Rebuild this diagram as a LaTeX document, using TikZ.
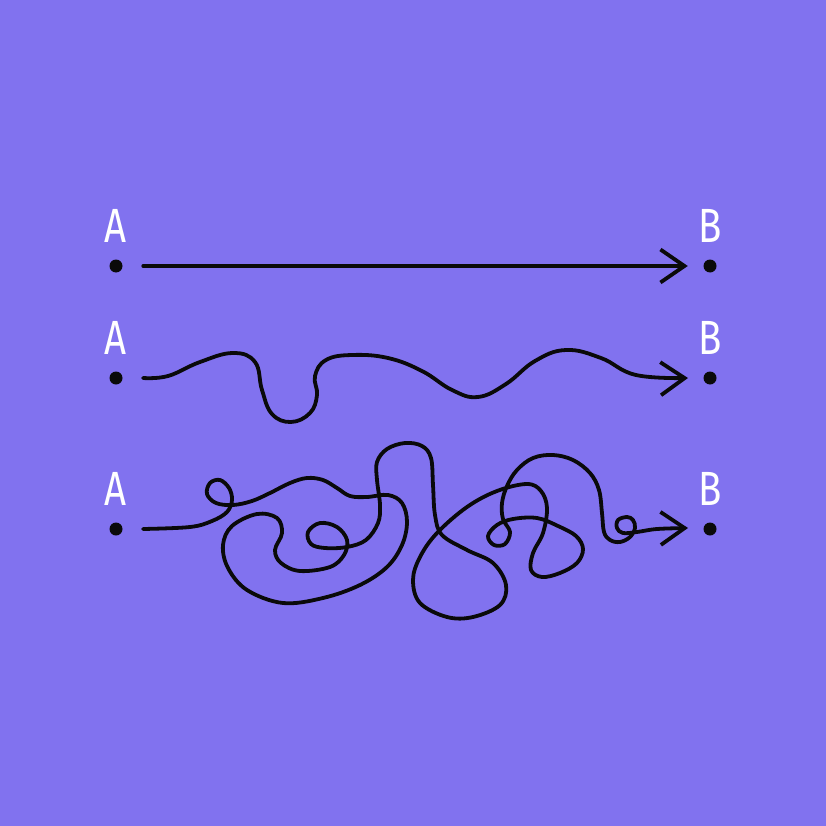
\documentclass[tikz,border=0pt]{standalone}
\usepackage{fontspec}
\newfontfamily\labfont[FakeStretch=0.8]{Fira Sans}
\usetikzlibrary{arrows.meta}
\definecolor{bgpurple}{RGB}{129,114,239}
\definecolor{ink}{RGB}{10,10,10}
\tikzset{
  dot/.style={circle, fill=ink, inner sep=0pt, minimum size=13pt},
  lab/.style={text=white, font=\labfont\fontsize{48}{48}\selectfont, anchor=base, inner sep=0pt},
  wire/.style={draw=ink, line width=3.8pt, line cap=round, line join=round,
    -{Straight Barb[length=24pt, width=33pt, line width=3.8pt]}},
}
\begin{document}
\begin{tikzpicture}[x=1pt, y=-1pt]
\fill[bgpurple] (0,0) rectangle (826,826);
\useasboundingbox (0,0) rectangle (826,826);

% row 1
\node[dot] (a1) at (116,266) {};
\node[dot] (b1) at (710,266) {};
\node[lab] (la1) at (116,242) {A};
\node[lab] (lb1) at (710,242) {B};
\draw[wire, shorten <=20.5pt, shorten >=15.5pt] (a1) -- (b1);

% row 2
\node[dot] (a2) at (116,378) {};
\node[dot] (b2) at (710,378) {};
\node[lab] (la2) at (116,354) {A};
\node[lab] (lb2) at (710,354) {B};
\coordinate (s2) at (143,378);
\coordinate (e2) at (688,378);
\draw[wire] plot[smooth, tension=0.7] coordinates {
 (s2) (168,376) (200,362) (233,353) (255,362) (262,390) (272,414) (291,422)
 (310,413) (317,395) (315,376) (326,360) (352,355) (388,358) (422,371)
 (452,390) (478,397) (506,384) (535,361) (566,350) (601,358) (636,375) (e2)};

% row 3
\node[dot] (a3) at (116,529) {};
\node[dot] (b3) at (710,529) {};
\node[lab] (la3) at (116,505) {A};
\node[lab] (lb3) at (710,505) {B};
\coordinate (s3) at (143,529);
\coordinate (e3) at (688,528);
\draw[wire] plot[smooth, tension=0.6] coordinates {
 (s3) (190,527) (212,521) (227,512) (232,500) (229,488) (220,480) (210,483)
 (207,494) (216,503) (233,505) (252,501) (270,493) (290,483) (307,478)
 (323,480) (337,488) (350,496) (367,497) (388,495) (402,503) (407,522)
 (402,545) (387,567) (360,585) (323,598) (283,603) (247,590) (228,568)
 (223,545) (232,526) (257,514) (277,518) (282,533) (275,550) (281,563)
 (300,571) (330,567) (344,555) (347,540) (337,527) (320,523) (308,532)
 (311,544) (325,548) (347,547) (366,540) (378,523) (380,505) (377,480)
 (377,462) (387,449) (405,443) (422,446) (431,458) (433,485) (435,515)
 (442,535) (467,550) (493,563) (506,585) (500,605) (473,617) (447,617)
 (420,603) (413,580) (420,557) (437,533) (467,507) (497,491) (527,484)
 (541,491) (547,508) (543,533) (533,553) (531,570) (542,577) (560,573)
 (577,563) (583,549) (576,536) (558,526) (537,518) (513,519) (497,525)
 (488,536) (494,545) (505,544) (510,532) (503,519) (502,503) (507,486)
 (517,470) (533,458) (553,455) (573,460) (590,473) (599,490) (602,513)
 (604,532) (610,540) (620,542) (630,537) (635,528) (633,520) (627,517)
 (618,520) (617,528) (623,533) (637,532) (657,529) (e3)};
\end{tikzpicture}
\end{document}
